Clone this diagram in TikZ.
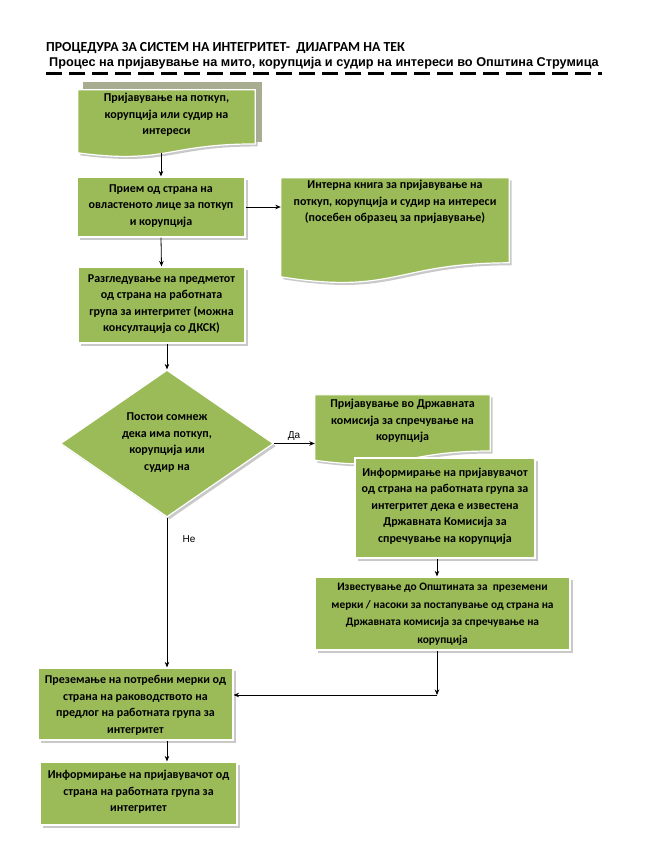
\documentclass[tikz,border=0pt]{standalone}
\usepackage{fontspec}
\setmainfont{Carlito}
\newfontfamily\arialfont{Liberation Sans}
\usetikzlibrary{shapes.geometric,shadows,calc,arrows.meta}
\definecolor{boxgreen}{RGB}{155,187,89}
\definecolor{olivegray}{RGB}{168,173,146}
\tikzset{
  boxtext/.style={align=center,inner sep=0pt,font=\bfseries\fontsize{12}{16.5}\selectfont,text=black},
  rectbox/.style={rectangle,fill=boxgreen,draw=white,line width=1.2pt,inner sep=0pt,
     drop shadow={shadow xshift=2.5pt,shadow yshift=-2.5pt,fill=black!35,opacity=0.6}},
  docframe/.style={rectangle,inner sep=0pt},
  docfill/.style={fill=boxgreen,draw=white,line width=1.2pt,
     drop shadow={shadow xshift=2.5pt,shadow yshift=-2.5pt,fill=black!35,opacity=0.6}},
  arr/.style={line width=0.8pt,-{Stealth[length=5.5pt,width=4.5pt]}},
  lbl/.style={inner sep=0pt,font=\arialfont\fontsize{10}{12}\selectfont},
}
% document shape: name, full height
\newcommand\docpath[2]{%
  \path[docfill] (#1.north west) -- (#1.north east) -- ($(#1.north east)+(0,#2*0.802)$)
    .. controls ($(#1.north)+(0,#2*0.802)$) and ($(#1.north)+(0,#2*1.107)$) ..
    ($(#1.north west)+(0,#2*0.934)$) -- cycle;}
\begin{document}
\begin{tikzpicture}[x=1pt,y=-1pt]
\useasboundingbox (0,0) rectangle (650,841);
\fill[white] (0,0) rectangle (650,841);

% header
\node[anchor=base west,inner sep=0pt,font=\bfseries\fontsize{13.8}{15}\selectfont] (t1) at (46,51)
  {ПРОЦЕДУРА ЗА СИСТЕМ НА ИНТЕГРИТЕТ-\ \ ДИЈАГРАМ НА ТЕК};
\node[anchor=base west,inner sep=0pt,font=\arialfont\bfseries\fontsize{12.7}{14}\selectfont] (t2) at (49,66)
  {Процес на пријавување на мито, корупција и судир на интереси во Општина Струмица};
\coordinate (dl) at (46,73.5);
\coordinate (dr) at (602,73.5);
\draw[line width=3pt,dash pattern=on 16pt off 7pt] (dl) -- (dr);

% box 1 (document with olive shadow)
\fill[olivegray] (83,82) rectangle (262,142);
\node[docframe,minimum width=177pt,minimum height=63pt] (b1) at (166.5,121.5) {};
\docpath{b1}{67.5}
\node[boxtext] (b1t) at (166.5,115) {Пријавување на поткуп,\\корупција или судир на\\интереси};

% box 2
\node[rectbox,minimum width=168pt,minimum height=60pt] (b2) at (161,207) {};
\node[boxtext] (b2t) at (161,206) {Прием од страна на\\овластеното лице за поткуп\\и корупција};

% internal book (document)
\node[docframe,minimum width=228pt,minimum height=99pt] (bi) at (395,227.5) {};
\docpath{bi}{106}
\node[boxtext] (bit) at (395,202) {Интерна книга за пријавување на\\поткуп, корупција и судир на интереси\\(посебен образец за пријавување)};

% box 3
\node[rectbox,minimum width=167pt,minimum height=76pt] (b3) at (161.5,305) {};
\node[boxtext] (b3t) at (161.5,304) {Разгледување на предметот\\од страна на работната\\група за интегритет (можна\\консултација со ДКСК)};

% diamond
\node[diamond,fill=boxgreen,draw=white,line width=1.2pt,inner sep=0pt,minimum width=213pt,minimum height=147pt,
  drop shadow={shadow xshift=2.5pt,shadow yshift=-2.5pt,fill=black!35,opacity=0.6}] (d) at (167,443.5) {};
\node[boxtext] (dt) at (167,442.5) {Постои сомнеж\\дека има поткуп,\\корупција или\\судир на};

% box 4 (document)
\node[docframe,minimum width=175pt,minimum height=65.3pt] (b4) at (402.5,427.7) {};
\docpath{b4}{70}
\node[boxtext] (b4t) at (402.5,421) {Пријавување во Државната\\комисија за спречување на\\корупција};

% box 5
\node[rectbox,minimum width=180pt,minimum height=100pt] (b5) at (445,508) {};
\node[boxtext] (b5t) at (445,506) {Информирање на пријавувачот\\од страна на работната група за\\интегритет дека е известена\\Државната Комисија за\\спречување на корупција};

% box 6
\node[rectbox,minimum width=255pt,minimum height=73pt] (b6) at (442.5,613.5) {};
\node[boxtext,font=\bfseries\fontsize{11.4}{17.5}\selectfont] (b6t) at (442.5,614) {Известување до Општината за\ \ преземени\\мерки / насоки за постапување од страна на\\Државната комисија за спречување на\\корупција};

% box 7
\node[rectbox,minimum width=195pt,minimum height=72pt] (b7) at (135.5,704) {};
\node[boxtext] (b7t) at (135.5,705.5) {Преземање на потребни мерки од\\страна на раководството на\\предлог на работната група за\\интегритет};

% box 8
\node[rectbox,minimum width=197pt,minimum height=63pt] (b8) at (138.5,793.5) {};
\node[boxtext] (b8t) at (138.5,792) {Информирање на пријавувачот од\\страна на работната група за\\интегритет};

% connectors
\draw[arr] (b1.south -| b2t.north) -- (b2.north -| b2t.north);
\draw[arr] (b2.east) -- (b2.east -| bi.west);
\draw[arr] (b2.south) -- (b3.north);
\draw[arr] (b3.south -| d.north) -- (d.north);
\draw[arr] (d.east) -- (d.east -| b4.west);
\node[lbl,anchor=south] (da) at (294,441) {Да};
\draw[arr] (d.south) -- (d.south |- b7.north);
\node[lbl] (ne) at (189,539) {Не};
\coordinate (j) at (437,695);
\draw[arr] (b5.south -| j) -- (b6.north -| j);
\draw[arr] (b6.south -| j) -- (j);
\draw[arr] (j) -- (j -| b7.east);
\draw[arr] (d.south |- b7.south) -- (d.south |- b8.north);
\end{tikzpicture}
\end{document}
